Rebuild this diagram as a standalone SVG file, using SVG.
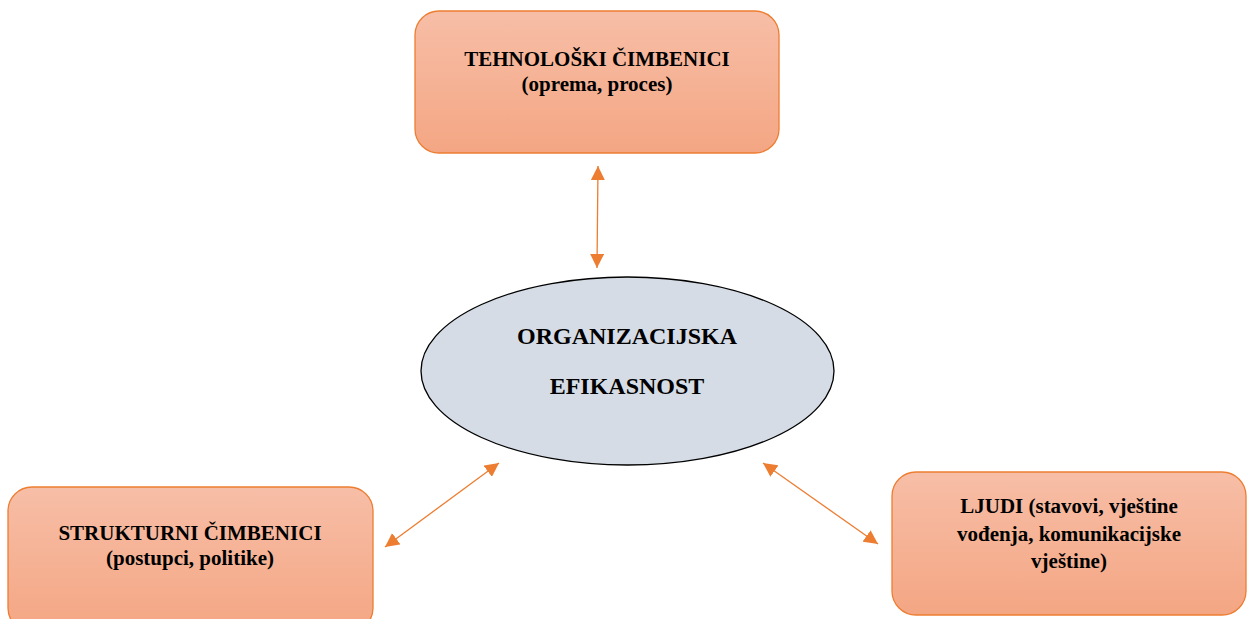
<svg xmlns="http://www.w3.org/2000/svg" width="1248" height="619" viewBox="0 0 1248 619">
<style>
.box{stroke:#ed7d31;stroke-width:1.3;fill:url(#g)}
.t{font-family:"Liberation Serif","Times New Roman","DejaVu Serif",serif;font-weight:bold;fill:#000;text-anchor:middle}
.s{font-size:21px}
.b{font-size:24px}
.c{stroke:#ed7d31;stroke-width:1.3;fill:none;marker-start:url(#a);marker-end:url(#a)}
</style>
<defs>
<linearGradient id="g" x1="0" y1="0" x2="0" y2="1">
<stop offset="0" stop-color="#f7bea7"/>
<stop offset="1" stop-color="#f4a683"/>
</linearGradient>
<marker id="a" viewBox="0 0 10 10" refX="10" refY="5" markerWidth="14" markerHeight="14" markerUnits="userSpaceOnUse" orient="auto-start-reverse">
<path d="M0,0 L10,5 L0,10 Z" fill="#ed7d31"/>
</marker>
</defs>
<g id="connectors">
<line class="c" x1="598" y1="166" x2="597" y2="268"/>
<line class="c" x1="385" y1="547" x2="499" y2="463"/>
<line class="c" x1="763" y1="463" x2="878" y2="544"/>
</g>
<g id="tehnoloski">
<rect class="box" x="415" y="11" width="364" height="142" rx="24"/>
<text class="t s" x="597" y="66">TEHNOLOŠKI ČIMBENICI</text>
<text class="t s" x="597" y="91">(oprema, proces)</text>
</g>
<g id="efikasnost">
<ellipse cx="627.5" cy="371" rx="206.5" ry="94" fill="#d5dce5" stroke="#000" stroke-width="1.3"/>
<text class="t b" x="627" y="344">ORGANIZACIJSKA</text>
<text class="t b" x="627" y="394">EFIKASNOST</text>
</g>
<g id="strukturni">
<rect class="box" x="8" y="487" width="365" height="145" rx="24"/>
<text class="t s" x="190" y="540">STRUKTURNI ČIMBENICI</text>
<text class="t s" x="190" y="565">(postupci, politike)</text>
</g>
<g id="ljudi">
<rect class="box" x="892" y="472" width="354" height="143" rx="24"/>
<text class="t s" x="1069" y="513">LJUDI (stavovi, vještine</text>
<text class="t s" x="1069" y="541">vođenja, komunikacijske</text>
<text class="t s" x="1069" y="568">vještine)</text>
</g>
</svg>
